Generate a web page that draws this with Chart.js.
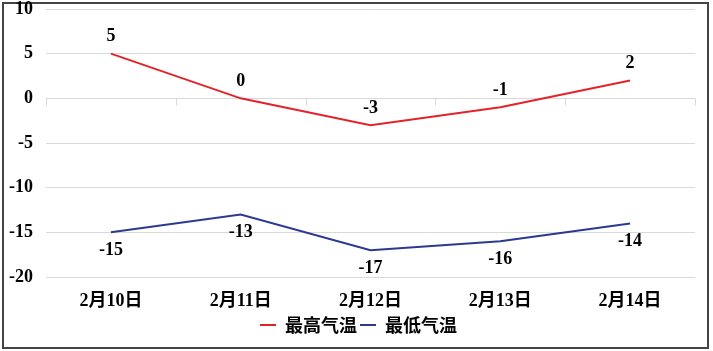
<!DOCTYPE html>
<html>
<head>
<meta charset="utf-8">
<script src="https://cdn.jsdelivr.net/npm/chart.js@4/dist/chart.umd.min.js"></script>
<style>
    html, body { margin: 0; padding: 0; background: #fff; }
    #wrap { position: relative; width: 713px; height: 351px; }
    #frame { position: absolute; left: 2px; top: 2px; width: 703px; height: 343px; border: 2px solid #444; pointer-events: none; }
    canvas { position: absolute; left: 0; top: 0; z-index: 1; }
</style>
</head>
<body>
<div id="wrap">
    <div id="frame"></div>
    <canvas id="chart" width="713" height="351"></canvas>
</div>
<script>
const categories = ['2月10日', '2月11日', '2月12日', '2月13日', '2月14日'];
const maxTemp = [5, 0, -3, -1, 2];
const minTemp = [-15, -13, -17, -16, -14];
const yTicks = [10, 5, 0, -5, -10, -15, -20];

const serif = '"Liberation Serif", "Noto Sans CJK SC", serif';

// rótulos de valor: acima na série vermelha, abaixo na azul
const valueLabels = {
    id: 'valueLabels',
    afterDatasetsDraw(chart) {
        const ctx = chart.ctx;
        ctx.save();
        ctx.font = 'bold 18px ' + serif;
        ctx.fillStyle = '#000';
        ctx.textAlign = 'center';
        ctx.textBaseline = 'middle';
        chart.data.datasets.forEach((ds, i) => {
            const offset = i === 0 ? -17 : 18;
            chart.getDatasetMeta(i).data.forEach((pt, j) => {
                ctx.fillText(String(ds.data[j]), pt.x, pt.y + offset);
            });
        });
        ctx.restore();
    }
};

// marcas pequenas no eixo zero entre categorias
const zeroTicks = {
    id: 'zeroTicks',
    beforeDatasetsDraw(chart) {
        const { ctx, chartArea, scales } = chart;
        const y0 = Math.round(scales.y.getPixelForValue(0)) + 0.5;
        const step = (chartArea.right - chartArea.left) / categories.length;
        ctx.save();
        ctx.strokeStyle = '#d9d9d9';
        ctx.lineWidth = 1;
        ctx.beginPath();
        for (let i = 0; i <= categories.length; i++) {
            const x = Math.round(chartArea.left + step * i) + 0.5;
            ctx.moveTo(x, y0);
            ctx.lineTo(x, y0 + 7);
        }
        ctx.stroke();
        ctx.restore();
    }
};

// legenda um pouco à direita, como no original
const shiftLegend = {
    id: 'shiftLegend',
    afterLayout(chart) {
        chart.legend.left += 11;
        chart.legend.right += 11;
    }
};

new Chart(document.getElementById('chart'), {
    type: 'line',
    data: {
        labels: categories,
        datasets: [
            {
                label: '最高气温',
                data: maxTemp,
                borderColor: '#e3222a',
                backgroundColor: '#e3222a',
                borderWidth: 2,
                pointRadius: 0,
                tension: 0
            },
            {
                label: '最低气温',
                data: minTemp,
                borderColor: '#2b3990',
                backgroundColor: '#2b3990',
                borderWidth: 2,
                pointRadius: 0,
                tension: 0
            }
        ]
    },
    options: {
        responsive: false,
        animation: false,
        layout: { padding: { top: 9, left: 0, right: 18, bottom: 7 } },
        scales: {
            x: {
                offset: true,
                grid: { display: false, drawTicks: false },
                border: { display: false },
                ticks: { color: '#000', padding: 14, font: { family: serif, size: 18, weight: 'bold' } },
                afterFit: (s) => { s.height = 36; }
            },
            y: {
                min: -20,
                max: 10,
                afterBuildTicks: (s) => { s.ticks = yTicks.map(v => ({ value: v })); },
                grid: { color: '#d9d9d9', drawTicks: false },
                border: { display: false },
                ticks: { color: '#000', padding: 13, font: { family: serif, size: 18, weight: 'bold' } },
                afterFit: (s) => { s.width = 46; s.paddingTop = 0; s.paddingBottom = 0; }
            }
        },
        plugins: {
            legend: {
                position: 'bottom',
                labels: {
                    usePointStyle: true,
                    pointStyle: 'line',
                    pointStyleWidth: 16,
                    boxHeight: 16,
                    padding: 3,
                    color: '#000',
                    font: { family: '"Noto Sans CJK SC", sans-serif', size: 18, weight: 'bold' }
                }
            },
            tooltip: { enabled: false }
        }
    },
    plugins: [valueLabels, zeroTicks, shiftLegend]
});
</script>
</body>
</html>
